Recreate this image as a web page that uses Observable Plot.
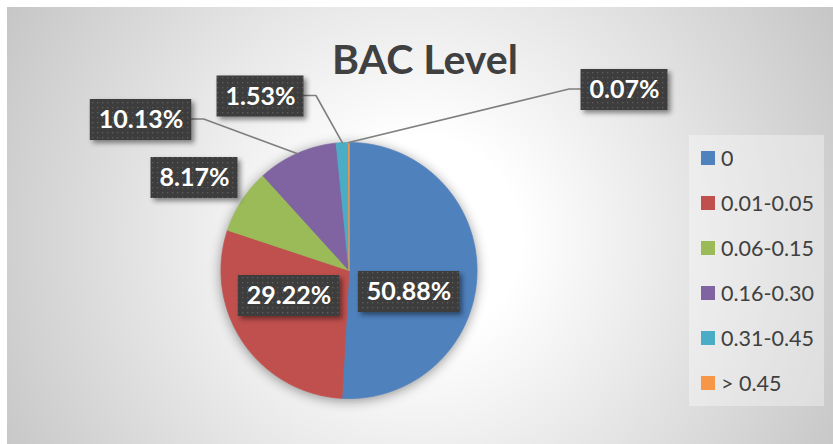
<!DOCTYPE html>
<html><head><meta charset="utf-8">
<script src="https://cdn.jsdelivr.net/npm/d3@7"></script>
<script src="https://cdn.jsdelivr.net/npm/@observablehq/plot@0.6"></script>
<style>
body{margin:0;background:#fff;}
#wrap{position:relative;width:833px;height:444px;overflow:hidden;font-family:Lato,"Open Sans",sans-serif;}
#bg{position:absolute;left:7px;top:7px;width:826px;height:437px;
  background:radial-gradient(circle at 50% 53%, #ffffff 0px, #ffffff 100px, #c2c2c2 500px);}
#chart{position:absolute;left:0;top:0;}
#legend{position:absolute;left:689px;top:135px;width:135px;height:271px;background:rgba(255,255,255,0.35);box-sizing:border-box;padding:0.5px 0 0 12px;}
#legend .lg-swatches{font-family:Lato,"Open Sans",sans-serif !important;font-size:21.5px !important;color:#404040;margin:0;}
#legend .lg-swatch{height:45px;padding:0;display:flex;align-items:center;}
#legend .lg-swatch > svg{margin-right:6px;}
</style></head>
<body><div id="wrap"><div id="bg"></div><div id="chart"></div><div id="legend"></div></div>
<script>
// ---- data ----
const title = "BAC Level";
const categories = ["0", "0.01-0.05", "0.06-0.15", "0.16-0.30", "0.31-0.45", "> 0.45"];
const percents = [50.88, 29.22, 8.17, 10.13, 1.53, 0.07];
const colors = ["#4F81BD", "#C0504D", "#9BBB59", "#8064A2", "#4BACC6", "#F79646"];

// ---- layout (pixels) ----
const W = 833, H = 444, CX = 348.5, CY = 270, R = 128;
const labelOffsets = [[60, 21.5], [-60, 25.5], [-154.5, -92.5], [-208, -150.5], [-88.5, -174], [275.5, -180.5]];
const hasLeader = [false, false, false, true, true, true];
const LABEL_FONT = 25, PADX = 8.5, HALFH = 20.5, ELBOW = 12;

const total = d3.sum(percents);
const toX = px => px / R, toY = py => -py / R;

// slices as closed polygons
const slices = [];
let acc = 0;
const mids = [];
percents.forEach((p, i) => {
  const a0 = acc / total * 2 * Math.PI; acc += p; const a1 = acc / total * 2 * Math.PI;
  mids.push((a0 + a1) / 2);
  const n = Math.max(2, Math.ceil((a1 - a0) / (Math.PI / 360)));
  slices.push({cat: categories[i], x: 0, y: 0});
  for (let k = 0; k <= n; k++) {
    const a = a0 + (a1 - a0) * k / n;
    slices.push({cat: categories[i], x: Math.sin(a), y: Math.cos(a)});
  }
});

// label boxes
const ctx = document.createElement("canvas").getContext("2d");
ctx.font = `bold ${LABEL_FONT}px Lato`;
const labels = percents.map((p, i) => {
  const text = p.toFixed(2) + "%";
  const hw = ctx.measureText(text).width / 2 + PADX;
  const [ox, oy] = labelOffsets[i];
  return {text, x: toX(ox), y: toY(oy), x1: toX(ox - hw), x2: toX(ox + hw), y1: toY(oy - HALFH), y2: toY(oy + HALFH), ox, oy, hw};
});

// leader lines
const leaders = [];
labels.forEach((l, i) => {
  if (!hasLeader[i]) return;
  const ex = Math.sin(mids[i]), ey = Math.cos(mids[i]);
  const right = l.ox < ex * R;
  const edge = right ? l.ox + l.hw : l.ox - l.hw;
  const elbow = right ? edge + ELBOW : edge - ELBOW;
  leaders.push({k: i, x: ex, y: ey});
  leaders.push({k: i, x: toX(elbow), y: toY(l.oy - 1)});
  leaders.push({k: i, x: toX(edge), y: toY(l.oy - 1)});
});

const defs = () => {
  const g = document.createElementNS("http://www.w3.org/2000/svg", "g");
  g.innerHTML = `<defs><pattern id="dotpat" width="5" height="5" patternUnits="userSpaceOnUse">
    <rect width="5" height="5" fill="#3d3d3d"/><rect x="2" y="2" width="1.3" height="1.3" fill="#5e5e5e"/></pattern></defs>`;
  return g;
};

const chart = Plot.plot({
  width: W, height: H,
  marginTop: 0, marginBottom: 0, marginLeft: 0, marginRight: 0,
  style: {background: "transparent", overflow: "visible"},
  x: {domain: [-CX / R, (W - CX) / R], axis: null},
  y: {domain: [-(H - CY) / R, CY / R], axis: null},
  color: {domain: categories, range: colors},
  marks: [
    defs,
    Plot.line(slices, {x: "x", y: "y", z: "cat", fill: "cat", stroke: "cat", strokeWidth: 0.8, curve: "linear-closed"}),
    Plot.line(leaders, {x: "x", y: "y", z: "k", stroke: "#7f7f7f", strokeWidth: 1.6}),
    Plot.rect(labels, {x1: "x1", x2: "x2", y1: "y1", y2: "y2", fill: "url(#dotpat)"}),
    Plot.text(labels, {x: "x", y: "y", text: "text", fill: "white", fontSize: LABEL_FONT, fontWeight: "bold", fontFamily: "Lato", lineAnchor: "middle"}),
    Plot.text([title], {frameAnchor: "top", dx: 8, dy: 60, fill: "#404040", fontSize: 41, fontWeight: "bold", fontFamily: "Lato", lineAnchor: "middle"})
  ]
});
document.getElementById("chart").appendChild(chart);
const groups = Array.from(chart.children).filter(e => e.tagName === "g");
groups[1].style.filter = "drop-shadow(0px 2px 6px rgba(0,0,0,0.4))";
groups[3].style.filter = "drop-shadow(3px 3px 2.5px rgba(0,0,0,0.45))";

const legend = Plot.legend({
  color: {domain: categories, range: colors},
  legend: "swatches", columns: 1, swatchSize: 14, className: "lg"
});
document.getElementById("legend").appendChild(legend);
</script>
</body></html>
